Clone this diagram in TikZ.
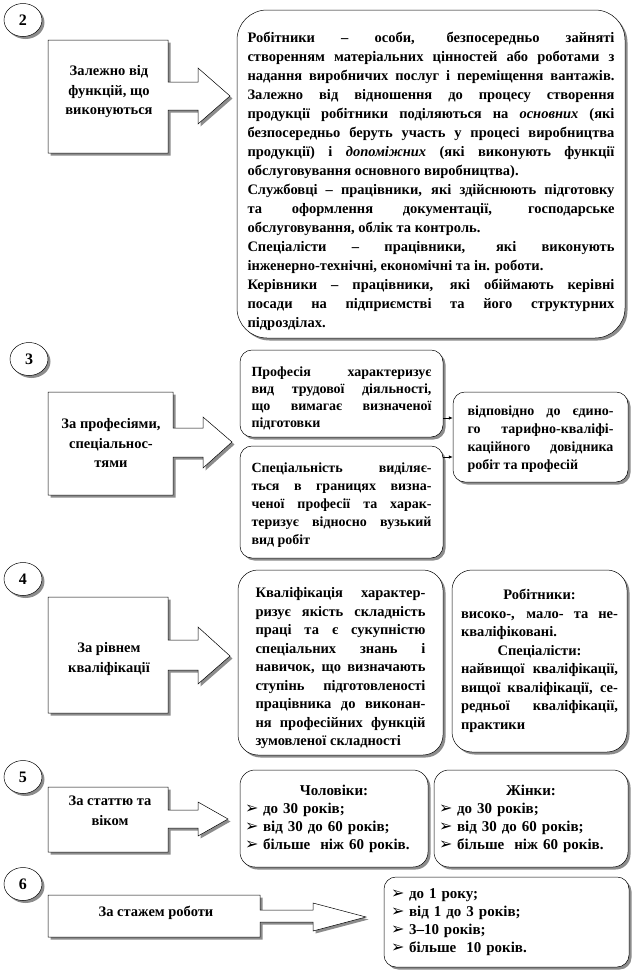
\documentclass[tikz,border=0pt]{standalone}
\usepackage{fontspec}
\setmainfont{Liberation Serif}
\newfontfamily\dejavu{DejaVu Sans}
\usetikzlibrary{shadows,shapes.geometric,arrows.meta,calc}
\newcommand\mybul{\makebox[18pt][l]{\dejavu\fontsize{16pt}{14pt}\selectfont ➢}}
\newcommand\toppad[1]{\rule{0pt}{#1}\ignorespaces}
\tolerance=10000
\hbadness=10000
\hyphenpenalty=10000
\exhyphenpenalty=10000
\begin{document}
\begin{tikzpicture}[x=1pt,y=-1pt,
  shad/.style={drop shadow={shadow xshift=2.5pt,shadow yshift=-2.5pt,fill=black!45,opacity=1}},
  callout/.style={draw=black,line width=0.5pt,fill=white,shad},
  rbox/.style={draw=black,line width=0.5pt,fill=white,shad,inner sep=0pt,align=justify,font=\fontsize{14.5pt}{18.5pt}\selectfont\bfseries},
  fbig/.style={font=\fontsize{14.5pt}{19pt}\selectfont\bfseries},
  fmid/.style={font=\fontsize{14pt}{17pt}\selectfont\bfseries},
  flist/.style={font=\fontsize{15pt}{18pt}\selectfont\bfseries},
  num/.style={ellipse,draw=black,line width=0.5pt,fill=white,shad,minimum width=38pt,minimum height=33pt,inner sep=0pt,font=\fontsize{16pt}{16pt}\selectfont\bfseries},
  ltxt/.style={align=center,font=\fontsize{14.5pt}{19.5pt}\selectfont\bfseries,inner sep=0pt},
  link/.style={-{Latex[length=4pt,width=3.5pt]},line width=0.6pt}
]
\useasboundingbox (0,0) rectangle (632,970);

% numbers
\node[num] (n2) at (23,20) {2};
\node[num] (n3) at (29,359) {3};
\node[num] (n4) at (23,579) {4};
\node[num] (n5) at (23,777) {5};
\node[num] (n6) at (23,884) {6};

% callout arrows
\path[callout] (48,40) -- (168,40) -- (168,82) -- (198,82) -- (198,68) -- (230,96) -- (198,124) -- (198,110) -- (168,110) -- (168,153) -- (48,153) -- cycle;
\node[ltxt] (t2) at (109,92) {Залежно від\\функцій, що\\виконуються};

\path[callout] (48,392) -- (173,392) -- (173,428) -- (203,428) -- (203,417) -- (232,442) -- (203,468) -- (203,457) -- (173,457) -- (173,495) -- (48,495) -- cycle;
\node[ltxt] (t3) at (111,443) {За професіями,\\спеціальнос-\\тями};

\path[callout] (48,597) -- (168,597) -- (168,640) -- (198,640) -- (198,627) -- (230,656) -- (198,684) -- (198,670) -- (168,670) -- (168,713) -- (48,713) -- cycle;
\node[ltxt] (t4) at (109,659) {За рівнем\\кваліфікації};

\path[callout] (48,787) -- (168,787) -- (168,810) -- (198,810) -- (198,802) -- (228,819) -- (198,836) -- (198,828) -- (168,828) -- (168,852) -- (48,852) -- cycle;
\node[ltxt] (t5) at (110,811) {За статтю та\\віком};

\path[callout] (48,895) -- (260,895) -- (260,910) -- (313,910) -- (313,903) -- (366,917) -- (313,931) -- (313,922) -- (260,922) -- (260,937) -- (48,937) -- cycle;
\node[ltxt] (t6) at (156,913) {За стажем роботи};

% section 2
\node[rbox,fbig,rounded corners=30pt,minimum width=388pt,minimum height=328pt,text width=367pt] (b2) at (431,174) {%
\toppad{26pt}Робітники – особи, безпосередньо зайняті\linebreak
створенням матеріальних цінностей або роботами з\linebreak
надання виробничих послуг і переміщення вантажів.\linebreak
Залежно від відношення до процесу створення\linebreak
продукції робітники поділяються на \textit{основних} (які\linebreak
безпосередньо беруть участь у процесі виробництва\linebreak
продукції) і \textit{допоміжних} (які виконують функції\linebreak
обслуговування основного виробництва).\par
Службовці – працівники, які здійснюють підготовку\linebreak
та оформлення документації, господарське\linebreak
обслуговування, облік та контроль.\par
Спеціалісти – працівники, які виконують\linebreak
інженерно-технічні, економічні та ін. роботи.\par
Керівники – працівники, які обіймають керівні\linebreak
посади на підприємстві та його структурних\linebreak
підрозділах.};

% section 3
\node[rbox,fmid,rounded corners=12pt,minimum width=203pt,minimum height=87pt,text width=180pt] (prof) at (341.5,393.5) {%
\toppad{20pt}Професія характеризує\linebreak
вид трудової діяльності,\linebreak
що вимагає визначеної\linebreak
підготовки};
\node[rbox,font=\fontsize{14pt}{18pt}\selectfont\bfseries,rounded corners=12pt,minimum width=203pt,minimum height=112pt,text width=180pt] (spec) at (341.5,502) {%
\toppad{16pt}Спеціальність виділяє-\linebreak
ться в границях визна-\linebreak
ченої професії та харак-\linebreak
теризує відносно вузький\linebreak
вид робіт};
\node[rbox,font=\fontsize{14pt}{18pt}\selectfont\bfseries,rounded corners=12pt,minimum width=175pt,minimum height=90pt,text width=146pt] (vid) at (540.5,437) {%
\toppad{13pt}відповідно до єдино-\linebreak
го тарифно-кваліфі-\linebreak
каційного довідника\linebreak
робіт та професій};
\coordinate (a1) at ($(vid.west)+(0,-19)$);
\coordinate (a2) at ($(vid.west)+(0,20)$);
\draw[link] (a1 -| prof.east) -- (a1);
\draw[link] (a2 -| spec.east) -- (a2);

% section 4
\node[rbox,rounded corners=20pt,minimum width=205pt,minimum height=185pt,text width=170pt] (kval) at (340.5,662.5) {%
\toppad{22pt}Кваліфікація характер-\linebreak
ризує якість складність\linebreak
праці та є сукупністю\linebreak
спеціальних знань і\linebreak
навичок, що визначають\linebreak
ступінь підготовленості\linebreak
працівника до виконан-\linebreak
ня професійних функцій\linebreak
зумовленої складності};
\node[rbox,rounded corners=20pt,minimum width=175pt,minimum height=182pt,text width=157pt] (rob) at (539.5,661) {%
\centerline{Робітники:}
високо-, мало- та не-\linebreak
кваліфіковані.\par
\centerline{Спеціалісти:}
найвищої кваліфікації,\linebreak
вищої кваліфікації, се-\linebreak
редньої кваліфікації,\linebreak
практики};

% section 5
\node[rbox,flist,align=left,rounded corners=15pt,minimum width=188pt,minimum height=97pt,text width=178pt] (men) at (334,818.5) {%
\centerline{Чоловіки:}
\mybul до 30 років;\\
\mybul від 30 до 60 років;\\
\mybul більше~ ніж 60 років.};
\node[rbox,flist,align=left,rounded corners=15pt,minimum width=194pt,minimum height=97pt,text width=184pt] (women) at (531,818.5) {%
\centerline{Жінки:}
\mybul до 30 років;\\
\mybul від 30 до 60 років;\\
\mybul більше~ ніж 60 років.};

% section 6
\node[rbox,flist,align=left,rounded corners=12pt,minimum width=245pt,minimum height=90pt,text width=231pt] (stazh) at (506.5,922) {%
\mybul до 1 року;\\
\mybul від 1 до 3 років;\\
\mybul 3–10 років;\\
\mybul більше~ 10 років.};
\end{tikzpicture}
\end{document}
